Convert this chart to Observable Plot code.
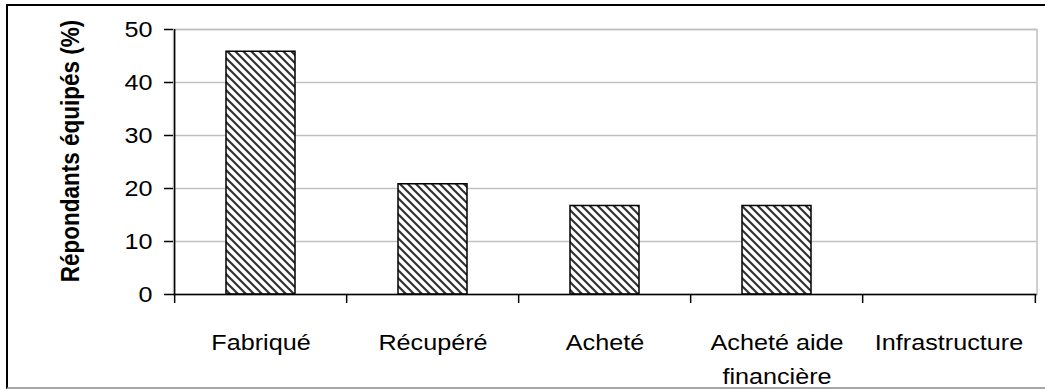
<!DOCTYPE html>
<html><head><meta charset="utf-8">
<script src="https://cdn.jsdelivr.net/npm/d3@7"></script>
<script src="https://cdn.jsdelivr.net/npm/@observablehq/plot@0.6"></script>
<style>
html,body{margin:0;padding:0;background:#fff;}
#wrap{position:relative;width:1045px;height:389px;overflow:hidden;}
#border{position:absolute;left:6px;top:4px;width:1100px;height:381px;border-top:2px solid #000;border-left:2px solid #000;border-bottom:2px solid #a6a6a6;}
#chart{position:absolute;left:0;top:0;}
</style></head><body>
<div id="wrap"><div id="border"></div><div id="chart"></div></div>
<script>
const categories = ["Fabriqué", "Récupéré", "Acheté", "Acheté aide financière", "Infrastructure"];
const values = [45.8, 20.8, 16.7, 16.7, 0];
const yTicks = [0, 10, 20, 30, 40, 50];
const yLabel = "Répondants équipés (%)";
const labelLines = {"Acheté aide financière": "Acheté aide\nfinancière"};

const data = categories.map((c, i) => ({category: c, value: values[i]}));

const W = 1045, H = 389;
const mL = 173, mR = 8.5, mT = 29, mB = 95;
const step = (W - mL - mR) / categories.length;
const font = "'Liberation Sans', Arial, sans-serif";
const stretch = 1.12; // horizontal glyph stretch seen in the reference

const svg = Plot.plot({
  width: W, height: H,
  marginLeft: mL, marginRight: mR, marginTop: mT, marginBottom: mB,
  style: {fontFamily: font, fontSize: "22px", color: "#000", background: "transparent"},
  x: {domain: categories, paddingInner: 0.6, paddingOuter: 0.3},
  y: {domain: [0, 50]},
  marks: [
    Plot.frame({stroke: "#c0c0c0", strokeWidth: 1.5}),
    Plot.gridY(yTicks, {stroke: "#c0c0c0", strokeOpacity: 1, strokeWidth: 1.5}),
    Plot.barY(data, {x: "category", y: "value", fill: "url(#hatch)", stroke: "#000", strokeWidth: 1.5}),
    Plot.ruleY([0], {stroke: "#000", strokeWidth: 1.5}),
    Plot.ruleX(categories.slice(0, 1), {dx: -step / 2, stroke: "#000", strokeWidth: 1.5}),
    Plot.ruleX(categories, {x: d => d, y1: 0, y2: 0, insetBottom: -9, dx: -step / 2, stroke: "#000", strokeWidth: 1.5}),
    Plot.ruleX(categories.slice(-1), {x: d => d, y1: 0, y2: 0, insetBottom: -9, dx: step / 2, stroke: "#000", strokeWidth: 1.5}),
    Plot.axisY({ticks: yTicks, tickSize: 9, tickPadding: 12, fontSize: 22.5, label: null, strokeWidth: 1.5}),
    Plot.axisX({tickSize: 0, tickPadding: 31, fontSize: 22.5, lineHeight: 1.51, label: null,
      tickFormat: d => labelLines[d] ?? d}),
    Plot.text([yLabel], {frameAnchor: "left", textAnchor: "middle", rotate: -90, dx: -103, dy: -11,
      fontSize: 22.5, fontWeight: "bold", fill: "#000"})
  ]
});

const root = d3.select(svg);
const defs = root.insert("defs", ":first-child");
const pat = defs.append("pattern").attr("id", "hatch").attr("patternUnits", "userSpaceOnUse")
  .attr("width", 8).attr("height", 8);
pat.append("rect").attr("width", 8).attr("height", 8).attr("fill", "#fff");
pat.append("path").attr("d", "M-2,-2L10,10M-2,6L2,10M6,-2L10,2")
  .attr("stroke", "#333").attr("stroke-width", 2.2).attr("fill", "none");

// widen glyphs about their anchor point, as in the reference
root.selectAll('g[aria-label="x-axis tick label"] text, g[aria-label="y-axis tick label"] text')
  .attr("transform", function() {
    const t = this.getAttribute("transform") || "";
    const x = +this.getAttribute("x") || 0;
    return `${t} translate(${x},0) scale(${stretch},1) translate(${-x},0)`;
  });
// same stretch for the rotated title (its glyph height runs horizontally on screen)
root.selectAll('g[aria-label="text"] text')
  .attr("transform", function() {
    const t = this.getAttribute("transform") || "";
    return `${t} scale(1,${stretch})`;
  });

document.getElementById("chart").appendChild(svg);
</script>
</body></html>
